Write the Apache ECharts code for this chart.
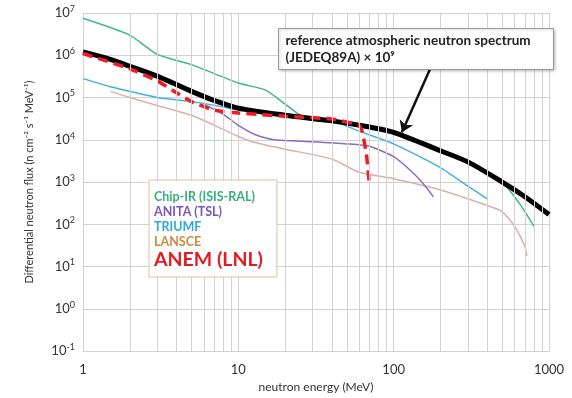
<!DOCTYPE html>
<html>
<head>
<meta charset="utf-8">
<script src="https://cdn.jsdelivr.net/npm/echarts@6/dist/echarts.min.js"></script>
<style>
html, body { margin: 0; padding: 0; background: #fff; }
#box { width: 572px; height: 398px; }
</style>
</head>
<body>
<div id="box"></div>
<script>
var mychart = echarts.init(document.getElementById("box"));

// energies (MeV) and flux values
var refE = [1, 1.5, 2, 3, 5, 7, 10, 20, 40, 70, 100, 200, 300, 500, 700, 1000];
var refF = [1.2e6, 8e5, 5.5e5, 3.2e5, 1.4e5, 8.5e4, 5.6e4, 3.8e4, 2.8e4, 2.0e4, 1.5e4, 5.5e3, 3e3, 1.0e3, 4.5e2, 1.7e2];

var chipE = [1, 2, 3, 5, 10, 15, 20, 27, 40, 70, 100, 200, 300, 500, 650, 800];
var chipF = [7.5e6, 3e6, 1.05e6, 6e5, 2.2e5, 1.5e5, 7e4, 3.2e4, 2.6e4, 2e4, 1.4e4, 5.2e3, 2.8e3, 1e3, 3e2, 9e1];

var anitaE = [6, 8, 10, 13, 17, 30, 50, 70, 100, 130, 160, 180];
var anitaF = [7e4, 4e4, 2.2e4, 1.3e4, 1e4, 9e3, 8e3, 7e3, 4e3, 1.8e3, 8e2, 4.5e2];

var triumfE = [1, 1.5, 2, 3, 5, 8, 10, 20, 40, 60, 100, 200, 300, 400];
var triumfF = [2.8e5, 1.8e5, 1.4e5, 1e5, 8e4, 6e4, 5e4, 4e4, 2.8e4, 1.6e4, 8e3, 2.2e3, 8e2, 4e2];

var lansceE = [1.5, 2, 3, 5, 7, 10, 13, 20, 40, 60, 100, 200, 400, 500, 600, 700, 720];
var lansceF = [1.4e5, 1e5, 6.5e4, 3.8e4, 2.2e4, 1.2e4, 8.5e3, 6e3, 3.5e3, 1.7e3, 1.2e3, 6.5e2, 2.8e2, 2e2, 9e1, 3e1, 1.8e1];

var anemE = [1, 2, 3, 4, 5, 7, 10, 20, 40, 60, 63, 67, 70];
var anemF = [1.1e6, 4.8e5, 2.5e5, 1.3e5, 8e4, 5e4, 4.3e4, 3.6e4, 3.1e4, 2.2e4, 1.5e4, 4e3, 8e2];

// vertical minor grid positions
var minorX = [2, 3, 4, 5, 6, 7, 8, 9, 20, 30, 40, 50, 60, 70, 80, 90, 200, 300, 400, 500, 600, 700, 800, 900];

// arrow from annotation box to the reference curve
var arrowFrom = [171, 4.6e5];
var arrowTo = [113, 1.5e4];

function pairs(xs, ys) {
    return xs.map(function (x, i) { return [x, ys[i]]; });
}

var gridColor = '#d2d2d2';
var font = 'Lato, "Open Sans", sans-serif';

var options = {
    animation: false,
    grid: {
        left: 83,
        right: 23,
        top: 13,
        bottom: 45
    },
    legend: {
        orient: 'vertical',
        left: 149,
        top: 180,
        padding: [10, 14, 7, 0],
        itemWidth: 0,
        itemHeight: 0,
        itemGap: 2,
        z: 50,
        backgroundColor: '#fff',
        borderColor: '#d8c39c',
        borderWidth: 1,
        icon: 'rect',
        textStyle: {
            fontFamily: font,
            fontWeight: 'bold',
            fontSize: 12.5
        },
        data: [
            { name: 'Chip-IR (ISIS-RAL)', textStyle: { color: '#35b27c' } },
            { name: 'ANITA (TSL)', textStyle: { color: '#7d55b8' } },
            { name: 'TRIUMF', textStyle: { color: '#2fa8dc' } },
            { name: 'LANSCE', textStyle: { color: '#c88a3e' } },
            { name: 'ANEM (LNL)', textStyle: { color: '#e31b23', fontSize: 19.5, padding: [10, 0, 0, 0] } }
        ]
    },
    xAxis: {
        type: 'log',
        logBase: 10,
        min: 1,
        max: 1000,
        name: 'neutron energy (MeV)',
        nameLocation: 'middle',
        nameGap: 26,
        nameTextStyle: { color: '#333', fontSize: 12, fontFamily: font },
        axisLine: { lineStyle: { color: gridColor } },
        axisTick: { show: false },
        axisLabel: {
            color: '#333', fontSize: 13, margin: 12, fontFamily: font,
            formatter: function (v) { return String(Math.round(v)); }
        },
        splitLine: { show: true, lineStyle: { color: gridColor } }
    },
    yAxis: {
        type: 'log',
        logBase: 10,
        min: 0.1,
        max: 1e7,
        splitNumber: 8,
        name: 'Differential neutron flux (n cm\u207B\u00B2 s\u207B\u00B9 MeV\u207B\u00B9)',
        nameLocation: 'middle',
        nameGap: 48,
        nameTextStyle: { color: '#333', fontSize: 11, fontFamily: font },
        axisLine: { lineStyle: { color: gridColor } },
        axisTick: { show: false },
        axisLabel: {
            color: '#333',
            fontSize: 13,
            margin: 8,
            fontFamily: font,
            formatter: function (v) {
                return '10{s|' + Math.round(Math.log10(v)) + '}';
            },
            rich: {
                s: { fontSize: 9, padding: [0, 0, 8, 0], color: '#333', fontFamily: font }
            }
        },
        splitLine: { show: true, lineStyle: { color: gridColor } }
    },
    series: [{
        name: 'grid',
        type: 'line',
        data: [[1, 1]],
        symbol: 'none',
        lineStyle: { opacity: 0 },
        silent: true,
        z: 0,
        markLine: {
            silent: true,
            symbol: 'none',
            label: { show: false },
            lineStyle: { color: gridColor, type: 'solid', width: 1 },
            data: minorX.map(function (x) { return { xAxis: x }; })
        }
    }, {
        name: 'LANSCE',
        type: 'line',
        smooth: 0.2,
        symbol: 'none',
        color: '#d9abab',
        lineStyle: { width: 1.5, color: '#dcaeae' },
        data: pairs(lansceE, lansceF)
    }, {
        name: 'ANITA (TSL)',
        type: 'line',
        smooth: 0.2,
        symbol: 'none',
        color: '#8e6bbd',
        lineStyle: { width: 1.5, color: '#8e6bbd' },
        data: pairs(anitaE, anitaF)
    }, {
        name: 'TRIUMF',
        type: 'line',
        smooth: 0.2,
        symbol: 'none',
        color: '#45b0e0',
        lineStyle: { width: 1.5, color: '#45b0e0' },
        data: pairs(triumfE, triumfF)
    }, {
        name: 'Chip-IR (ISIS-RAL)',
        type: 'line',
        smooth: 0.2,
        symbol: 'none',
        color: '#3dba85',
        lineStyle: { width: 1.5, color: '#3dba85' },
        data: pairs(chipE, chipF)
    }, {
        name: 'reference',
        type: 'line',
        smooth: 0.3,
        symbol: 'none',
        color: '#000',
        lineStyle: { width: 5, color: '#000' },
        data: pairs(refE, refF),
        markLine: {
            silent: true,
            symbol: ['none', 'arrow'],
            symbolSize: 11,
            label: { show: false },
            lineStyle: { color: '#111', type: 'solid', width: 2.5 },
            data: [[{ coord: arrowFrom }, { coord: arrowTo }]]
        }
    }, {
        name: 'ANEM (LNL)',
        type: 'line',
        smooth: 0.15,
        symbol: 'none',
        color: '#ee1c24',
        lineStyle: { width: 3.5, color: '#ee1c24', type: [10, 6] },
        data: pairs(anemE, anemF)
    }],
    graphic: [{
        type: 'group',
        left: 278,
        top: 28,
        z: 60,
        children: [{
            type: 'rect',
            z: 60,
            shape: { x: 0, y: 0, width: 275, height: 41 },
            style: { fill: '#fff', stroke: '#9a9a9a', lineWidth: 1, shadowBlur: 3, shadowColor: 'rgba(0,0,0,0.25)', shadowOffsetX: 1, shadowOffsetY: 1 }
        }, {
            type: 'text',
            z: 61,
            x: 7,
            y: 5,
            style: {
                text: 'reference atmospheric neutron spectrum',
                font: 'bold 13.5px ' + font,
                fill: '#222'
            }
        }, {
            type: 'text',
            z: 61,
            x: 7,
            y: 22,
            style: {
                text: '(JEDEQ89A) \u00D7 10\u2079',
                font: 'bold 13.5px ' + font,
                fill: '#222'
            }
        }]
    }]
};

mychart.setOption(options);
</script>
</body>
</html>
